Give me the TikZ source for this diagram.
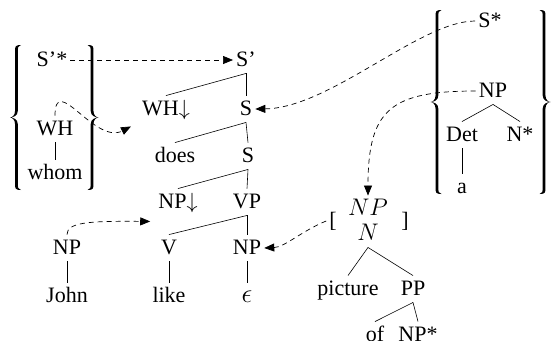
\RequirePackage{fix-cm}
\documentclass[tikz,border=0pt]{standalone}
\usepackage{amsmath}
\usepackage[no-math]{fontspec}
\setmainfont{Liberation Serif}
\usetikzlibrary{positioning,arrows.meta}

% filled curly brace: #1 stem x, #2 top, #3 bottom, #4 = 1 (opens right) or -1 (opens left)
\newcommand{\drawcurl}[4]{%
  \fill ({#1+#4*4.5},#2)
    .. controls ({#1-#4*1.4},#2) and ({#1-#4*1.4},{#2+1.5}) .. ({#1-#4*1.4},{#2+6})
    -- ({#1-#4*1.4},{(#2+#3)/2-7})
    .. controls ({#1-#4*1.4},{(#2+#3)/2-2}) and ({#1-#4*4.5},{(#2+#3)/2}) .. ({#1-#4*6.5},{(#2+#3)/2})
    .. controls ({#1-#4*4.5},{(#2+#3)/2}) and ({#1-#4*1.4},{(#2+#3)/2+2}) .. ({#1-#4*1.4},{(#2+#3)/2+7})
    -- ({#1-#4*1.4},{#3-6})
    .. controls ({#1-#4*1.4},{#3-1.5}) and ({#1-#4*1.4},#3) .. ({#1+#4*4.5},#3)
    .. controls ({#1+#4*1.4},{#3-0.6}) and ({#1+#4*1.4},{#3-2.5}) .. ({#1+#4*1.4},{#3-6})
    -- ({#1+#4*1.4},{(#2+#3)/2+7})
    .. controls ({#1+#4*1.4},{(#2+#3)/2+1.5}) and ({#1-#4*3.5},{(#2+#3)/2}) .. ({#1-#4*6.5},{(#2+#3)/2})
    .. controls ({#1-#4*3.5},{(#2+#3)/2}) and ({#1+#4*1.4},{(#2+#3)/2-1.5}) .. ({#1+#4*1.4},{(#2+#3)/2-7})
    -- ({#1+#4*1.4},{#2+6})
    .. controls ({#1+#4*1.4},{#2+2.5}) and ({#1+#4*1.4},{#2+0.6}) .. ({#1+#4*4.5},#2) -- cycle;}

\begin{document}
\begin{tikzpicture}
    [x=1pt,y=-1pt,on grid,
     lbl/.style={font=\fontsize{22}{26}\selectfont, inner xsep=3pt, inner ysep=5pt,
                 text height=14.5pt, text depth=2pt},
     ital/.style={lbl, font=\fontsize{24}{28}\selectfont},
     tree/.style={line width=0.6pt},
     link/.style={dash pattern=on 5pt off 4pt, line width=0.7pt,
                  -{Triangle[length=10pt,width=8pt]}},
     every node/.append style={lbl}]
  \useasboundingbox (0,0) rectangle (551,340);

  % auxiliary set on the left
  \node (spstar) at (52,60) {S'*};
  \node (wh) at (55,129) {WH};
  \node (whom) [below=44pt of wh] {whom};
  \drawcurl{16.5}{45}{190}{1}
  \drawcurl{92}{45}{190}{-1}

  % main tree
  \node (sp) at (246,60) {S'};
  \node (whd) [below left=49pt and 80pt of sp] {WH$\downarrow$};
  \node (s1) [below=49pt of sp] {S};
  \node (does) [below left=47pt and 71pt of s1] {does};
  \node (s2) [below right=47pt and 2pt of s1] {S};
  \node (npd) [below left=46pt and 70pt of s2] {NP$\downarrow$};
  \node (vp) [below left=46pt and 1pt of s2] {VP};
  \node (v) [below left=46pt and 78pt of vp] {V};
  \node (npe) [below=46pt of vp] {NP};
  \node (like) [below=48pt of v] {like};
  \node[font=\fontsize{27}{30}\selectfont] (eps) [below=48pt of npe] {$\epsilon$};
  \node (npj) at (67,248) {NP};
  \node (john) [below=48pt of npj] {John};

  % auxiliary set on the right
  \node (sstar) at (490,21) {S*};
  \node (np) at (493,91) {NP};
  \node (det) [below left=44pt and 31pt of np] {Det};
  \node (nstar) [below right=44pt and 27pt of np] {N*};
  \node (a) [below=52pt of det] {a};
  \drawcurl{437}{10}{194}{1}
  \drawcurl{544}{10}{194}{-1}

  % picture tree
  \node[ital] (npi) at (368,209) {$NP$};
  \node[ital] (ni) [below=25pt of npi] {$N$};
  \node (lsq) at (333,221) {[};
  \node (rsq) at (405,221) {]};
  \node (pic) [below left=55pt and 20pt of ni] {picture};
  \node (pp) [below right=55pt and 45pt of ni] {PP};
  \node (of) [below left=46pt and 38pt of pp] {of};
  \node (npstar) [below right=46pt and 5pt of pp] {NP*};

  % branches
  \path[tree] (sp.south) edge (whd.north) edge (s1.north)
              (s1.south) edge (does.north) edge (s2.north)
              (s2.south) edge (npd.north) edge (vp.north)
              (vp.south) edge (v.north) edge (npe.north)
              (v.south) edge (like.north)
              (npe.south) edge (eps.north)
              (npj.south) edge (john.north)
              (wh.south) edge (whom.north)
              (np.south) edge (det.north) edge (nstar.north)
              (det.south) edge (a.north)
              (ni.south) edge (pic.north) edge (pp.north)
              (pp.south) edge (of.north) edge (npstar.north);

  % dashed links
  \draw[link] (spstar) -- (sp);
  \draw[link] (wh.north) .. controls (55,72) and (95,145) .. ([xshift=-8pt,yshift=-4pt]whd.south west);
  \draw[link] (npj.north) .. controls (67,222) and (90,221) .. ([xshift=-5pt,yshift=-6pt]npd.south west);
  \draw[link] (lsq.west) .. controls (300,232) and (285,247) .. (npe.east);
  \draw[link] (sstar.west) .. controls (420,21) and (330,108) .. (s1.east);
  \draw[link] (np.west) .. controls (390,91) and (368,110) .. (npi.north);
\end{tikzpicture}
\end{document}
